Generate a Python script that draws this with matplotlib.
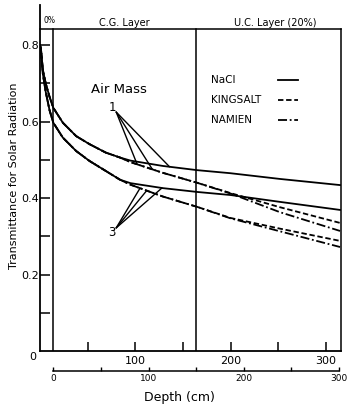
import numpy as np
import matplotlib
matplotlib.use("Agg")
import matplotlib.pyplot as plt

# depth in cm (upper scale) and transmittance
depth = [0, 1, 3, 6, 10, 14, 24, 38, 52, 69, 84, 95, 129, 165, 200, 252, 315]

am1_nacl = [0.80, 0.79, 0.735, 0.70, 0.665, 0.636, 0.597, 0.562, 0.541, 0.519,
            0.506, 0.498, 0.484, 0.473, 0.465, 0.450, 0.434]
am1_kingsalt = [0.80, 0.79, 0.735, 0.70, 0.665, 0.636, 0.597, 0.562, 0.541, 0.519,
                0.506, 0.494, 0.466, 0.440, 0.413, 0.376, 0.335]
am1_namien = [0.80, 0.79, 0.735, 0.70, 0.665, 0.636, 0.597, 0.562, 0.541, 0.519,
              0.506, 0.494, 0.466, 0.440, 0.412, 0.363, 0.314]

am3_nacl = [0.80, 0.785, 0.725, 0.678, 0.63, 0.597, 0.558, 0.523, 0.497, 0.471,
            0.448, 0.439, 0.426, 0.416, 0.408, 0.390, 0.369]
am3_kingsalt = [0.80, 0.785, 0.725, 0.678, 0.63, 0.597, 0.558, 0.523, 0.497, 0.471,
                0.448, 0.435, 0.404, 0.377, 0.348, 0.320, 0.288]
am3_namien = [0.80, 0.785, 0.725, 0.678, 0.63, 0.597, 0.558, 0.523, 0.497, 0.471,
              0.448, 0.435, 0.404, 0.377, 0.347, 0.313, 0.272]

salts = ["NaCl", "KINGSALT", "NAMIEN"]
styles = ["-", (0, (3, 1.5)), (0, (5, 1.5, 1, 1.5))]

cg_start = 14      # start of C.G. layer (lower scale zero)
uc_start = 164     # boundary C.G. / U.C. layer
x_end = 316
top_line = 0.842

plt.rcParams["font.family"] = ["DejaVu Sans"]

fig = plt.figure(figsize=(3.48, 4.09), dpi=100)
ax = fig.add_axes([40 / 348, 1 - 351 / 409, 301 / 348, 346 / 409])
ax.set_xlim(0, x_end)
ax.set_ylim(0, 0.905)

for s in ["top", "right"]:
    ax.spines[s].set_visible(False)
for s in ["left", "bottom"]:
    ax.spines[s].set_linewidth(1.3)

lw = 1.3
series = [(am1_nacl, am1_kingsalt, am1_namien), (am3_nacl, am3_kingsalt, am3_namien)]
for group in series:
    for vals, ls in zip(group, styles):
        ax.plot(depth, vals, color="k", lw=lw, linestyle=ls)

# layer boundaries and frame
ax.plot([cg_start, cg_start], [0, top_line], color="k", lw=1.1)
ax.plot([uc_start, uc_start], [0, top_line], color="k", lw=1.1)
ax.plot([x_end, x_end], [0, top_line], color="k", lw=1.1, clip_on=False)
ax.plot([0, x_end], [top_line, top_line], color="k", lw=1.1, clip_on=False)

ax.text(9.5, 0.864, "0%", fontsize=5.5, ha="center", va="center")
ax.text(88, 0.858, "C.G. Layer", fontsize=7, ha="center", va="center")
ax.text(247, 0.858, "U.C. Layer (20%)", fontsize=7, ha="center", va="center")

# ticks
ax.set_yticks([0.2, 0.4, 0.6, 0.8])
ax.set_yticklabels(["0.2", "0.4", "0.6", "0.8"])
ax.set_yticks([0.1, 0.3, 0.5, 0.7], minor=True)
ax.set_xticks([100, 200, 300])
ax.set_xticks([50, 150, 250], minor=True)
ax.tick_params(axis="y", which="both", direction="in", length=7, width=1.1, pad=1, labelsize=8)
ax.tick_params(axis="x", which="both", direction="in", length=6.5, width=1.1, pad=3.5, labelsize=8)
ax.annotate("0", xy=(0, 0), xycoords="axes fraction", xytext=(-7, -6),
            textcoords="offset pixels", ha="center", va="center", fontsize=8)

# legend drawn by hand: text then line sample
leg_y = [0.709, 0.657, 0.604]
for name, ls, yy in zip(salts, styles, leg_y):
    ax.text(180, yy, name, fontsize=7.5, ha="left", va="center")
    ax.plot([250, 271], [yy, yy], color="k", lw=lw, linestyle=ls)

# air mass labels with pointer lines
ax.text(83, 0.683, "Air Mass", fontsize=9.5, ha="center", va="center")
ax.text(76.5, 0.636, "1", fontsize=8.5, ha="center", va="center")
ax.text(75.5, 0.309, "3", fontsize=8.5, ha="center", va="center")
for xp, vals in zip([136, 118, 102], [am1_nacl, am1_kingsalt, am1_namien]):
    ax.annotate("", xy=(xp, np.interp(xp, depth, vals)), xytext=(80, 0.625),
                arrowprops=dict(arrowstyle="-", lw=1.0, shrinkA=0, shrinkB=0))
for xp, vals in zip([128, 112, 105], [am3_nacl, am3_kingsalt, am3_namien]):
    ax.annotate("", xy=(xp, np.interp(xp, depth, vals)), xytext=(80, 0.322),
                arrowprops=dict(arrowstyle="-", lw=1.0, shrinkA=0, shrinkB=0))

# lower depth scale, measured from the top of the C.G. layer
ax2 = fig.add_axes([40 / 348, 1 - 371 / 409, 301 / 348, 0.002])
ax2.set_xlim(-cg_start, x_end - cg_start)
ax2.patch.set_visible(False)
for s in ["top", "right", "left"]:
    ax2.spines[s].set_visible(False)
ax2.spines["bottom"].set_bounds(0, 300)
ax2.spines["bottom"].set_linewidth(1.1)
ax2.set_yticks([])
ax2.set_xticks([0, 100, 200, 300])
ax2.set_xticks([50, 150, 250], minor=True)
ax2.tick_params(axis="x", which="both", direction="in", length=3, width=1, pad=2, labelsize=6.5)

fig.text(179 / 348, 1 - 398 / 409, "Depth (cm)", ha="center", va="center", fontsize=9)
fig.text(14 / 348, 1 - 176 / 409, "Transmittance for Solar Radiation", rotation=90,
         ha="center", va="center", fontsize=8)

fig.savefig("out.png", dpi=100)
